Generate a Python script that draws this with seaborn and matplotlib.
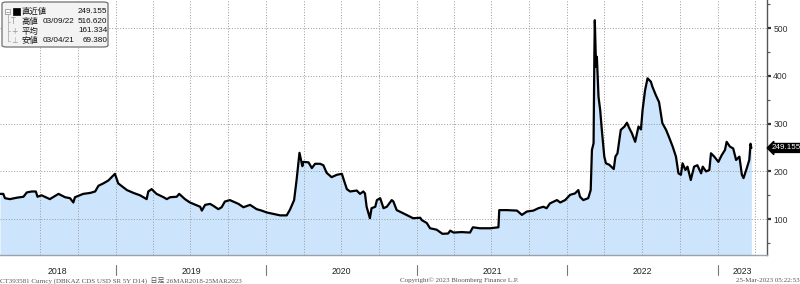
import numpy as np
import pandas as pd
import matplotlib
matplotlib.use("Agg")
import matplotlib.pyplot as plt
import matplotlib.dates as mdates
import matplotlib.transforms as mtrans
from matplotlib.patches import FancyBboxPatch, Rectangle
from matplotlib.lines import Line2D
from matplotlib.ticker import FixedLocator, MultipleLocator
import seaborn as sns

# ---------------- data ----------------
dates = [
    "2018-03-26", "2018-04-03", "2018-04-07", "2018-04-19", "2018-05-06", "2018-05-22",
    "2018-05-30", "2018-06-11", "2018-06-21", "2018-06-25", "2018-07-05", "2018-07-25",
    "2018-08-15", "2018-08-31", "2018-09-12", "2018-09-20", "2018-09-24", "2018-10-14",
    "2018-10-31", "2018-11-12", "2018-11-20", "2018-12-02", "2018-12-14", "2018-12-30",
    "2019-01-07", "2019-01-28", "2019-02-13", "2019-03-01", "2019-03-17", "2019-03-21",
    "2019-03-29", "2019-04-10", "2019-04-27", "2019-05-05", "2019-05-13", "2019-05-29",
    "2019-06-04", "2019-06-18", "2019-06-30",
    "2019-07-25", "2019-07-29", "2019-08-06", "2019-08-18", "2019-08-26", "2019-09-07",
    "2019-09-15", "2019-09-23", "2019-10-05", "2019-10-13", "2019-10-26", "2019-11-07",
    "2019-11-23", "2019-12-09", "2019-12-21", "2020-01-03", "2020-01-19", "2020-02-04",
    "2020-02-20", "2020-02-28", "2020-03-09", "2020-03-15", "2020-03-22", "2020-03-29",
    "2020-03-31", "2020-04-13", "2020-04-21", "2020-04-29", "2020-05-11", "2020-05-19",
    "2020-05-27", "2020-06-08", "2020-06-21", "2020-07-03", "2020-07-07", "2020-07-15",
    "2020-07-23", "2020-08-08", "2020-08-16", "2020-08-24", "2020-08-28", "2020-09-01",
    "2020-09-09", "2020-09-13", "2020-09-22", "2020-09-26", "2020-10-04",
    "2020-10-12", "2020-10-20", "2020-11-01", "2020-11-05", "2020-11-13", "2020-11-25",
    "2020-12-11", "2020-12-23", "2021-01-09", "2021-01-13", "2021-01-25", "2021-02-02",
    "2021-02-18", "2021-03-04", "2021-03-18", "2021-03-23", "2021-03-31", "2021-04-20",
    "2021-05-10", "2021-05-17", "2021-06-03", "2021-06-28", "2021-07-18", "2021-07-20",
    "2021-08-07", "2021-09-01", "2021-09-13", "2021-09-25", "2021-10-11", "2021-10-23",
    "2021-11-04", "2021-11-12", "2021-11-20", "2021-12-07", "2021-12-15",
    "2021-12-27", "2022-01-08", "2022-01-20", "2022-01-28", "2022-02-01", "2022-02-09",
    "2022-02-21", "2022-02-27", "2022-03-02", "2022-03-06", "2022-03-08", "2022-03-09",
    "2022-03-12", "2022-03-14", "2022-03-18", "2022-03-22", "2022-03-26", "2022-04-01",
    "2022-04-05", "2022-04-13", "2022-04-24", "2022-04-28", "2022-05-03", "2022-05-11",
    "2022-05-20", "2022-05-26", "2022-06-01", "2022-06-07", "2022-06-15", "2022-06-23",
    "2022-06-29", "2022-07-03", "2022-07-09", "2022-07-15", "2022-07-23",
    "2022-07-27", "2022-08-04", "2022-08-12", "2022-08-20", "2022-08-29", "2022-09-06",
    "2022-09-14", "2022-09-22", "2022-09-28", "2022-10-04", "2022-10-08", "2022-10-15",
    "2022-10-20", "2022-10-28", "2022-11-05", "2022-11-13", "2022-11-22", "2022-11-26",
    "2022-12-04", "2022-12-12", "2022-12-16", "2022-12-24", "2023-01-03", "2023-01-11",
    "2023-01-19", "2023-01-23", "2023-01-31", "2023-02-08", "2023-02-15", "2023-02-23",
    "2023-03-01", "2023-03-05", "2023-03-13", "2023-03-19", "2023-03-22", "2023-03-24",
]
values = [
    153, 153, 144, 142, 145, 147,
    156, 158, 158, 147, 150, 142,
    153, 146, 144, 135, 146, 153,
    155, 158, 170, 175, 181, 195,
    175, 161, 155, 150, 142, 158,
    163, 153, 146, 142, 146, 147,
    153, 142, 135,
    126, 118, 130, 132, 128, 121,
    125, 137, 140, 137, 132, 125,
    130, 121, 118, 114, 111, 108,
    108, 120, 140, 182, 239, 211,
    220, 219, 207, 216, 216, 213,
    197, 188, 193, 195, 184, 163,
    158, 160, 153, 158, 154, 126,
    102, 123, 126, 140, 144,
    123, 126, 140, 137, 119, 114,
    107, 102, 103, 98, 92, 81,
    78, 69.38, 70, 76, 72, 73,
    72, 83, 81, 81, 83, 119,
    119, 118, 109, 116, 118, 123,
    126, 123, 133, 140, 135,
    140, 151, 154, 161, 147, 140,
    144, 161, 245, 259, 454, 516.62,
    419, 440, 356, 329, 287, 231,
    217, 214, 205, 231, 238, 287,
    294, 302, 290, 280, 262, 294,
    288, 329, 370, 395, 388,
    377, 360, 345, 301, 287, 270,
    252, 231, 196, 193, 217, 203,
    210, 182, 210, 213, 196, 210,
    200, 203, 238, 231, 220, 234,
    245, 262, 252, 248, 224, 231,
    193, 186, 207, 224, 258, 249.155,
]
year_labels = ["2018", "2019", "2020", "2021", "2022", "2023"]
y_ticks = [100, 200, 300, 400, 500]
legend_names = ["直近値", "高値", "平均", "安値"]
legend_dates = ["", "03/09/22", "", "03/04/21"]
legend_values = ["249.155", "516.620", "161.334", "69.380"]
last_value = 249.155
footer_left = "CT393581 Curncy (DBKAZ CDS USD SR 5Y D14)  日足 26MAR2018-25MAR2023"
footer_mid = "Copyright© 2023 Bloomberg Finance L.P."
footer_right = "25-Mar-2023 05:22:53"

# ---------------- figure ----------------
sns.set_style("white")
plt.rcParams["font.family"] = ["Liberation Sans", "Noto Sans CJK JP"]

W, H = 800, 284
fig = plt.figure(figsize=(W / 100, H / 100), dpi=100)
ax = fig.add_axes([0, 29 / H, 767 / W, 255 / H])

df = pd.DataFrame({"date": pd.to_datetime(dates), "value": values})
xmin, xmax = pd.Timestamp("2018-03-26"), pd.Timestamp("2023-05-01")

ax.fill_between(df["date"], df["value"], 0, color="#cce4fc", linewidth=0, zorder=1)
sns.lineplot(data=df, x="date", y="value", ax=ax, color="black", linewidth=1.6,
             zorder=4, sort=False)

ax.set_xlim(xmin, xmax)
ax.set_ylim(25, 559)
ax.set_xlabel("")
ax.set_ylabel("")

# grid
grid_kw = dict(color="#9a9a9a", linewidth=0.7, linestyle=(0, (1, 1.8)), zorder=2)
for q in pd.date_range("2018-07-01", "2023-04-01", freq="QS"):
    ax.axvline(q, **grid_kw)
for yv in y_ticks:
    ax.axhline(yv, **grid_kw)

# y axis on the right
ax.yaxis.tick_right()
ax.set_yticks(y_ticks)
ax.set_yticklabels([str(v) for v in y_ticks])
ax.yaxis.set_minor_locator(MultipleLocator(50))
ax.tick_params(axis="y", which="major", direction="out", length=3, width=1.6,
               colors="#333333", labelsize=6.2, pad=1.5, right=True, left=False)
ax.tick_params(axis="y", which="minor", direction="out", length=2, width=0.8,
               color="#555555", right=True, left=False)

# x axis: year labels centered in each year, monthly minor ticks
year_starts = [pd.Timestamp(f"{y}-01-01") for y in year_labels]
centers = []
for i, ys in enumerate(year_starts):
    a = max(ys, xmin)
    b = min(pd.Timestamp(f"{int(year_labels[i]) + 1}-01-01"), xmax)
    centers.append(mdates.date2num(a + (b - a) / 2))
ax.xaxis.set_major_locator(FixedLocator(centers))
ax.set_xticklabels(year_labels)
ax.xaxis.set_minor_locator(mdates.MonthLocator())
ax.tick_params(axis="x", which="major", length=0, labelsize=6.3, pad=8.5,
               labelcolor="#222222")
ax.tick_params(axis="x", which="minor", direction="out", length=2.5, width=0.7,
               color="#555555")

trans = mtrans.blended_transform_factory(ax.transData, ax.transAxes)
for ys in year_starts[1:]:
    ax.add_line(Line2D([ys, ys], [-0.04, -0.08], transform=trans, color="#777777",
                       linewidth=0.8, clip_on=False))

for side in ["left", "top"]:
    ax.spines[side].set_visible(False)
ax.spines["right"].set_color("#555555")
ax.spines["right"].set_linewidth(1.0)
ax.spines["bottom"].set_color("#9aa3ad")
ax.spines["bottom"].set_linewidth(1.0)

# last value tag
ax.annotate("249.155", xy=(1.0, last_value), xycoords=("axes fraction", "data"),
            xytext=(3.5, 0), textcoords="offset points", ha="left", va="center",
            color="white", fontsize=5.8, family=["Liberation Sans"],
            bbox=dict(boxstyle="larrow,pad=0.12", fc="black", ec="black"),
            annotation_clip=False)

# ---------------- legend box (top-left) ----------------
def fx(x):
    return x / W

def fy(y):
    return 1 - y / H

box = FancyBboxPatch((fx(2), fy(47)), 106 / W, 45 / H,
                     boxstyle="round,pad=0,rounding_size=0.006",
                     transform=fig.transFigure, fc="#f3f3f3", ec="#707070",
                     lw=0.9, zorder=10)
fig.patches.append(box)

leg_family = ["Liberation Sans", "Noto Sans CJK JP"]
rows_y = [11.7, 21.5, 31, 40.5]
# tree structure
fig.patches.append(Rectangle((fx(5), fy(14)), 5 / W, 5 / H, transform=fig.transFigure,
                             fc="white", ec="#9a9a9a", lw=0.6, zorder=11))
fig.lines.append(Line2D([fx(6), fx(9)], [fy(11.5), fy(11.5)], transform=fig.transFigure,
                        color="#9a9a9a", lw=0.6, zorder=12))
fig.lines.append(Line2D([fx(7.5), fx(7.5)], [fy(14), fy(40.5)], transform=fig.transFigure,
                        color="#b0b0b0", lw=0.6, zorder=11))
for ry in rows_y[1:]:
    fig.lines.append(Line2D([fx(7.5), fx(10)], [fy(ry), fy(ry)], transform=fig.transFigure,
                            color="#b0b0b0", lw=0.6, zorder=11))
symbols = ["", "T", "+", "⊥"]
for sym, ry in zip(symbols, rows_y):
    if sym:
        fig.text(fx(11), fy(ry), sym, fontsize=5.5, color="#9a9a9a", va="center",
                 ha="left", zorder=12, family=["DejaVu Sans"])
fig.patches.append(Rectangle((fx(13), fy(15)), 6.5 / W, 6.5 / H, transform=fig.transFigure,
                             fc="black", ec="black", lw=0.5, zorder=12))
for name, d, v, ry in zip(legend_names, legend_dates, legend_values, rows_y):
    fig.text(fx(21.5), fy(ry), name, fontsize=6.0, color="#111111", va="center",
             ha="left", zorder=12, family=["Noto Sans CJK JP"])
    if d:
        fig.text(fx(42.5), fy(ry), d, fontsize=5.9, color="#111111", va="center",
                 ha="left", zorder=12, family=leg_family)
    fig.text(fx(107.5), fy(ry), v, fontsize=5.9, color="#111111", va="center",
             ha="right", zorder=12, family=leg_family)

# ---------------- footer ----------------
foot_kw = dict(fontsize=5.0, color="#555555", va="center",
               family=["Liberation Serif", "Noto Sans CJK JP"])
fig.text(fx(0), fy(280), footer_left, ha="left", **foot_kw)
fig.text(fx(400), fy(280), footer_mid, ha="left", **foot_kw)
fig.text(fx(800), fy(280), footer_right, ha="right", **foot_kw)

fig.savefig("out.png", dpi=100)
